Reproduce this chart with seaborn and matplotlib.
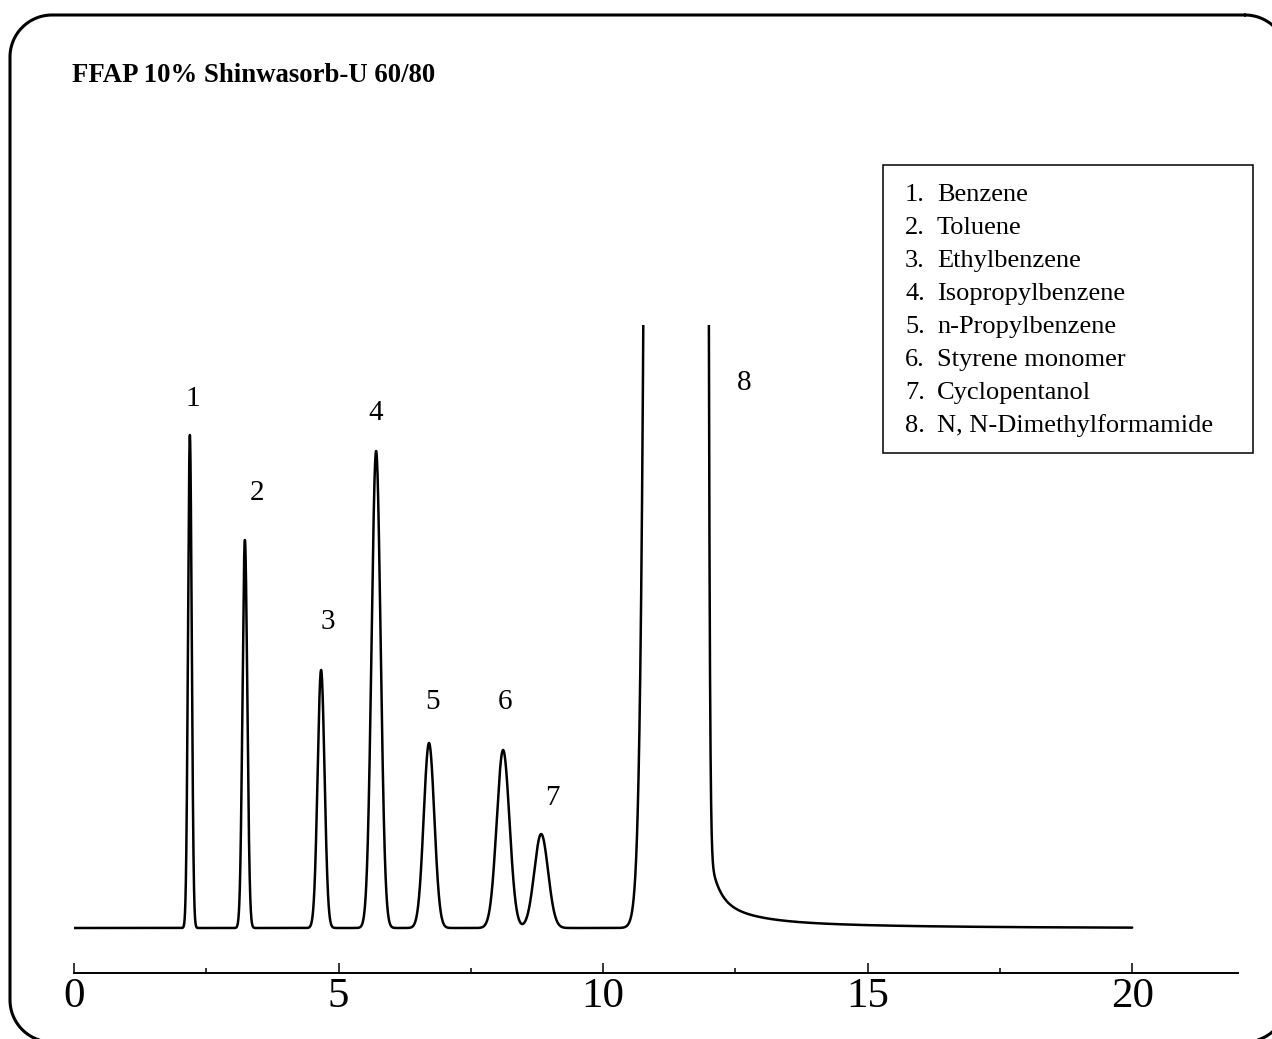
import numpy as np
import pandas as pd
import matplotlib
matplotlib.use("Agg")
import matplotlib.pyplot as plt
from matplotlib.patches import Rectangle
from matplotlib.lines import Line2D
from matplotlib.ticker import MultipleLocator
import seaborn as sns

# peak table (time in min, height in arbitrary units)
peak_ids = ["1", "2", "3", "4", "5", "6", "7", "8"]
compounds = ["Benzene", "Toluene", "Ethylbenzene", "Isopropylbenzene",
             "n-Propylbenzene", "Styrene monomer", "Cyclopentanol",
             "N, N-Dimethylformamide"]
peak_start = [2.19, 3.23, 4.67, 5.71, 6.71, 8.11, 8.83, 11.33]   # apex front
peak_end = [2.19, 3.23, 4.67, 5.71, 6.71, 8.11, 8.83, 11.8185]   # apex back (overloaded 8)
peak_heights = [49.3, 38.8, 25.8, 47.7, 18.5, 17.8, 9.4, 3500.0]
front_sigma = [0.035, 0.045, 0.065, 0.085, 0.10, 0.12, 0.13, 0.20]
back_sigma = [0.035, 0.045, 0.065, 0.085, 0.10, 0.12, 0.13, 0.0625]

# solvent (peak 8) tailing
tail_start = 12.0
tail_amps = [4.5, 2.36, 0.9]
tail_taus = [0.16, 0.6, 2.5]

run_end = 20.0
title = "FFAP 10% Shinwasorb-U 60/80"

# label positions (min, signal)
label_x = [2.25, 3.46, 4.80, 5.71, 6.77, 8.15, 9.05, 12.67]
label_y = [52.9, 43.5, 30.6, 51.5, 22.6, 22.6, 13.0, 54.5]


def build_trace():
    t = np.linspace(0, run_end, 40001)
    y = np.zeros_like(t)
    for a, b, h, sl, sr in zip(peak_start, peak_end, peak_heights, front_sigma, back_sigma):
        z = np.where(t < a, (t - a) / sl, np.where(t > b, (t - b) / sr, 0.0))
        y += h * np.exp(-0.5 * z ** 2)
    ramp = 1.0 / (1.0 + np.exp(-(t - (tail_start - 0.07)) / 0.02))
    for amp, tau in zip(tail_amps, tail_taus):
        y += amp * np.exp(-np.clip(t - tail_start, -1, None) / tau) * ramp
    return pd.DataFrame({"time": t, "signal": y})


def rounded_frame(x0, y0, x1, y1, r, H):
    # pixel coords (top-left origin) -> inches (bottom-left origin)
    pts = []
    corners = [(x1 - r, y0 + r, 90, 0), (x1 - r, y1 - r, 0, -90),
               (x0 + r, y1 - r, -90, -180), (x0 + r, y0 + r, 180, 90)]
    for cx, cy, a0, a1 in corners:
        ang = np.radians(np.linspace(a0, a1, 30))
        pts += list(zip(cx + r * np.cos(ang), cy - r * np.sin(ang)))
    pts.append(pts[0])
    px = np.array(pts)
    return px[:, 0] / 100, (H - px[:, 1]) / 100


sns.set_style("white")
plt.rcParams["font.family"] = ["Liberation Serif", "DejaVu Serif"]
plt.rcParams["text.color"] = "black"
plt.rcParams["xtick.color"] = "black"

W, H = 1272, 1039
fig = plt.figure(figsize=(W / 100, H / 100), dpi=100)
ax = fig.add_axes([74 / W, (H - 973) / H, (1238 - 74) / W, (973 - 325) / H])

df = build_trace()
sns.lineplot(data=df, x="time", y="signal", ax=ax, color="black", lw=1.8,
             estimator=None, sort=False)

ax.set_xlim(0, 22)
ax.set_ylim(-4.5, 60.3)
ax.set_xlabel("")
ax.set_ylabel("")
ax.set_yticks([])
for side in ["left", "right", "top"]:
    ax.spines[side].set_visible(False)
ax.spines["bottom"].set_linewidth(1.4)
ax.spines["bottom"].set_color("black")
ax.set_facecolor("none")

ax.xaxis.set_major_locator(MultipleLocator(5))
ax.xaxis.set_minor_locator(MultipleLocator(2.5))
ax.tick_params(axis="x", which="major", direction="in", length=7.5, width=1.1,
               pad=3, labelsize=31, colors="black", bottom=True)
ax.tick_params(axis="x", which="minor", direction="in", length=3.5, width=1.1,
               bottom=True)

for pid, lx, ly in zip(peak_ids, label_x, label_y):
    ax.text(lx, ly, pid, ha="center", va="center", fontsize=21)

fig.text(72 / W, 1 - 81.7 / H, title, fontsize=19.3, fontweight="bold",
         va="baseline", ha="left")

# legend box
fig.add_artist(Rectangle((883 / W, 1 - 453 / H), (1253 - 883) / W, (453 - 165) / H,
                         transform=fig.transFigure, fill=False, lw=1.1,
                         edgecolor="black"))
for i, (pid, name) in enumerate(zip(peak_ids, compounds)):
    yb = 1 - (200.7 + 33.0 * i) / H
    fig.text(905 / W, yb, pid + ".", fontsize=19, va="baseline", ha="left")
    fig.text(937 / W, yb, name, fontsize=19, va="baseline", ha="left")

# rounded frame
fx, fy = rounded_frame(10, 15, 1287, 1042, 42, H)
fig.add_artist(Line2D(fx, fy, transform=fig.dpi_scale_trans, lw=2.2,
                      color="black", solid_joinstyle="round"))

fig.savefig("out.png", dpi=100, facecolor="white")
